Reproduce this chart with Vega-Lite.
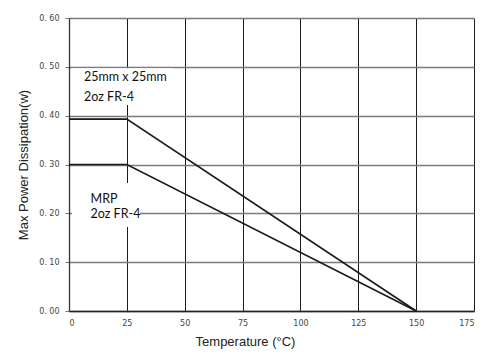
{
  "$schema": "https://vega.github.io/schema/vega-lite/v6.json",
  "autosize": "none",
  "width": 405,
  "height": 293,
  "padding": {"left": 69, "top": 18, "right": 19, "bottom": 44},
  "background": "white",
  "config": {"view": {"stroke": null}},
  "datasets": {
    "curves": [
      {"series": "25mm x 25mm", "temp": 0, "power": 0.393},
      {"series": "25mm x 25mm", "temp": 25, "power": 0.393},
      {"series": "25mm x 25mm", "temp": 150, "power": 0},
      {"series": "MRP", "temp": 0, "power": 0.3},
      {"series": "MRP", "temp": 25, "power": 0.3},
      {"series": "MRP", "temp": 150, "power": 0}
    ],
    "boxes": [
      {"x": 1.5, "x2": 45, "y": 0.422, "y2": 0.497},
      {"x": 1.3, "x2": 30.7, "y": 0.172, "y2": 0.262}
    ],
    "notes": [
      {"temp": 6.5, "power": 0.479, "label": "25mm x 25mm"},
      {"temp": 6.5, "power": 0.438, "label": "2oz FR-4"},
      {"temp": 9.3, "power": 0.229, "label": "MRP"},
      {"temp": 9.3, "power": 0.199, "label": "2oz FR-4"}
    ]
  },
  "layer": [
    {
      "data": {"name": "boxes"},
      "mark": {"type": "rect", "fill": "white", "stroke": null},
      "encoding": {
        "x": {"field": "x", "type": "quantitative", "scale": {"domain": [0, 175], "nice": false, "zero": false},
          "axis": {"values": [0, 25, 50, 75, 100, 125, 150, 175], "title": "Temperature (°C)",
            "grid": true, "gridColor": "#1a1a1a", "gridWidth": 1, "gridOpacity": 1,
            "domainColor": "#222", "domainWidth": 1.3, "ticks": false,
            "labelFont": "DejaVu Sans", "labelFontSize": 8, "labelColor": "#444", "labelPadding": 8,
            "titleFont": "Liberation Sans", "titleFontSize": 13, "titleFontWeight": "normal", "titleColor": "#222",
            "titlePadding": 8, "titleX": 176}},
        "x2": {"field": "x2"},
        "y": {"field": "y", "type": "quantitative", "scale": {"domain": [0, 0.6], "nice": false},
          "axis": {"values": [0, 0.1, 0.2, 0.3, 0.4, 0.5, 0.6], "title": "Max Power Dissipation(w)",
            "labelExpr": "replace(format(datum.value, '.2f'), '.', '. ')",
            "grid": true, "gridColor": "#7a7a7a", "gridWidth": 1.3, "gridOpacity": 1,
            "domainColor": "#333", "domainWidth": 1.3, "ticks": true, "tickSize": 4, "tickColor": "#777",
            "labelFont": "DejaVu Sans", "labelFontSize": 8, "labelColor": "#444", "labelPadding": 6,
            "titleFont": "Liberation Sans", "titleFontSize": 13, "titleFontWeight": "normal", "titleColor": "#222",
            "titlePadding": 8}},
        "y2": {"field": "y2"}
      }
    },
    {
      "data": {"name": "curves"},
      "mark": {"type": "line", "color": "#1a1a1a", "strokeWidth": 1.6},
      "encoding": {
        "x": {"field": "temp", "type": "quantitative"},
        "y": {"field": "power", "type": "quantitative"},
        "detail": {"field": "series"}
      }
    },
    {
      "data": {"name": "notes"},
      "mark": {"type": "text", "align": "left", "baseline": "middle", "font": "Lato", "fontSize": 12.5, "color": "#111"},
      "encoding": {
        "x": {"field": "temp", "type": "quantitative"},
        "y": {"field": "power", "type": "quantitative"},
        "text": {"field": "label"}
      }
    }
  ]
}
